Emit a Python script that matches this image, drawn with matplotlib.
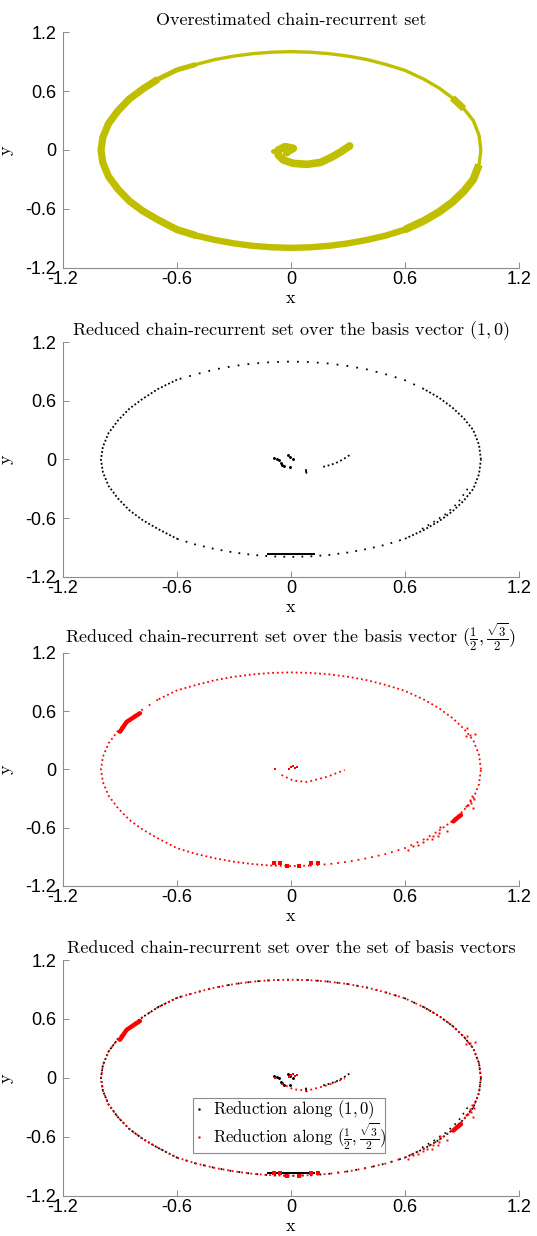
import matplotlib
matplotlib.use('Agg')
import matplotlib.pyplot as plt

plt.rcParams['mathtext.fontset'] = 'cm'
plt.rcParams['axes.unicode_minus'] = False

# ---------------- data ----------------
# closed limit cycle, counter-clockwise from (1, 0)
loop_x = [1.00, 0.99, 0.96, 0.91, 0.85, 0.78, 0.70, 0.60, 0.50, 0.40, 0.30, 0.20, 0.10,
          0.00, -0.10, -0.20, -0.30, -0.40, -0.50, -0.60, -0.70, -0.78, -0.85, -0.91,
          -0.96, -0.99, -1.00, -0.99, -0.96, -0.91, -0.85, -0.78, -0.70, -0.60, -0.50,
          -0.40, -0.30, -0.20, -0.10, 0.00, 0.10, 0.20, 0.30, 0.40, 0.50, 0.60, 0.70,
          0.78, 0.85, 0.91, 0.96, 0.99, 1.00]
loop_y = [0.00, 0.15, 0.30, 0.42, 0.53, 0.63, 0.72, 0.81, 0.87, 0.92, 0.955, 0.98, 0.995,
          1.00, 0.995, 0.98, 0.955, 0.92, 0.87, 0.815, 0.72, 0.62, 0.52, 0.40,
          0.27, 0.13, 0.00, -0.13, -0.27, -0.40, -0.52, -0.62, -0.71, -0.81, -0.87,
          -0.915, -0.95, -0.975, -0.99, -0.995, -0.99, -0.975, -0.95, -0.915, -0.87, -0.81, -0.72,
          -0.63, -0.53, -0.42, -0.30, -0.15, 0.00]

# overestimated inner spiral (panel 1)
spiral_x = [-0.022, -0.004, 0.013, -0.031, -0.067, -0.067, -0.040, 0.013, 0.085, 0.157, 0.219, 0.264, 0.309]
spiral_y = [-0.027, 0.000, 0.017, 0.034, 0.000, -0.051, -0.102, -0.136, -0.146, -0.126, -0.068, -0.017, 0.041]
spiral_iso_x = [-0.094]
spiral_iso_y = [-0.007]

# reduction along (1,0): inner pieces
black_cres_x = [-0.088, -0.075, -0.062, -0.054, -0.045, -0.037, -0.013, -0.005, 0.012, -0.005]
black_cres_y = [0.020, 0.008, -0.005, -0.039, -0.055, -0.067, 0.043, 0.022, 0.002, -0.073]
black_vert_x = [0.079, 0.081]
black_vert_y = [-0.108, -0.135]
black_chain_x = [0.170, 0.210, 0.250, 0.290, 0.320]
black_chain_y = [-0.075, -0.055, -0.025, 0.020, 0.060]
black_bottom_x = [-0.12, 0.12]
black_bottom_y = [-0.965, -0.965]
black_inner_x = [0.93, 0.88, 0.82, 0.75, 0.68]
black_inner_y = [-0.30, -0.44, -0.55, -0.64, -0.72]

# reduction along (1/2, sqrt(3)/2)
red_cl1_x = [-0.900, -0.865, -0.795]
red_cl1_y = [0.389, 0.490, 0.579]
red_cl2_x = [0.855, 0.875, 0.895]
red_cl2_y = [-0.535, -0.500, -0.470]
red_extra_x = [0.921, 0.942, 0.968, 0.928, 0.951, 0.965, 0.942, 0.933, 0.921, 0.956, 0.946,
               0.784, 0.781, 0.820, 0.746, 0.775, 0.714, 0.740, 0.693, 0.670, 0.644, 0.617]
red_extra_y = [0.345, 0.355, 0.366, 0.424, -0.273, -0.307, -0.314, -0.366, -0.376, -0.400, -0.348,
               -0.595, -0.651, -0.633, -0.685, -0.685, -0.719, -0.719, -0.744, -0.778, -0.788, -0.829]
red_bot_x = [-0.090, -0.060, -0.020, 0.045, 0.105, 0.140]
red_bot_y = [-0.966, -0.966, -0.994, -0.994, -0.966, -0.966]
red_chain_x = [-0.050, 0.013, 0.085, 0.193, 0.283]
red_chain_y = [-0.057, -0.115, -0.129, -0.074, -0.005]
red_center_x = [-0.086, 0.000, 0.020, 0.030, -0.010, 0.010]
red_center_y = [0.000, 0.030, 0.020, 0.030, 0.010, 0.040]

ticks = [-1.2, -0.6, 0, 0.6, 1.2]
tick_labels = ['-1.2', '-0.6', '0', '0.6', '1.2']

titles = ['Overestimated chain-recurrent set',
          r'Reduced chain-recurrent set over the basis vector $(1,0)$',
          r'Reduced chain-recurrent set over the basis vector $(\frac{1}{2},\frac{\sqrt{3}}{2})$',
          'Reduced chain-recurrent set over the set of basis vectors']
legend_labels = [r'Reduction along $(1,0)$',
                 r'Reduction along $(\frac{1}{2},\frac{\sqrt{3}}{2})$']

# ---------------- drawing ----------------
YEL = (0.75, 0.75, 0.0)
RED = (1.0, 0.0, 0.0)
BLK = 'black'
GRAY = '#8c8c8c'
SERIF = 'cmr10'

fig = plt.figure(figsize=(5.37, 12.36), dpi=100)
rects = [(0.1173, 0.7832, 0.849, 0.1909),
         (0.1173, 0.5332, 0.849, 0.1901),
         (0.1173, 0.2832, 0.849, 0.1885),
         (0.1173, 0.0324, 0.849, 0.1909)]
axes = [fig.add_axes(r) for r in rects]


def seg(lst, a, b):
    return lst[a:b + 1]


def dotted(ax, i0, i1, color, gap, lw=1.3, z=2):
    ax.plot(seg(loop_x, i0, i1), seg(loop_y, i0, i1), color=color, lw=lw,
            linestyle=(0, (1, gap)), dash_capstyle='butt', zorder=z)


def black_set(ax, z=2):
    dotted(ax, 19, 33, BLK, 1.2, z=z)
    dotted(ax, 45, 52, BLK, 1.2, z=z)
    dotted(ax, 0, 6, BLK, 1.2, z=z)
    dotted(ax, 6, 19, BLK, 4.5, z=z)
    dotted(ax, 33, 45, BLK, 4.0, z=z)
    ax.plot(black_inner_x, black_inner_y, color=BLK, lw=1.2, linestyle=(0, (1, 3)), zorder=z)
    ax.plot(black_bottom_x, black_bottom_y, color=BLK, lw=1.4, zorder=z)
    ax.plot(black_cres_x, black_cres_y, '.', color=BLK, ms=2.2, zorder=z)
    ax.plot(black_vert_x, black_vert_y, color=BLK, lw=1.3, zorder=z)
    ax.plot(black_chain_x, black_chain_y, color=BLK, lw=1.3, linestyle=(0, (1, 1.5)), zorder=z)


def red_set(ax, z=3):
    dotted(ax, 0, 20, RED, 1.6, z=z)
    dotted(ax, 20, 23, RED, 4.0, z=z)
    dotted(ax, 23, 40, RED, 1.6, z=z)
    dotted(ax, 40, 47, RED, 2.8, z=z)
    dotted(ax, 47, 52, RED, 1.6, z=z)
    ax.plot(red_cl1_x, red_cl1_y, color=RED, lw=3.2, solid_capstyle='round', zorder=z)
    ax.plot(red_cl2_x, red_cl2_y, color=RED, lw=3.2, solid_capstyle='round', zorder=z)
    ax.plot(red_extra_x, red_extra_y, 's', color=RED, ms=1.4, mew=0, zorder=z)
    ax.plot(red_bot_x, red_bot_y, 's', color=RED, ms=2.5, mew=0, zorder=z)
    ax.plot(red_chain_x, red_chain_y, color=RED, lw=1.3, linestyle=(0, (1, 1.8)), zorder=z)
    ax.plot(red_center_x, red_center_y, 's', color=RED, ms=1.6, mew=0, zorder=z)


# panel 1
ax = axes[0]
band = dict(color=YEL, solid_joinstyle='round', solid_capstyle='butt')
ax.plot(loop_x, loop_y, lw=2.4, **band)
ax.plot(seg(loop_x, 18, 21), seg(loop_y, 18, 21), lw=3.6, **band)
ax.plot(seg(loop_x, 20, 34), seg(loop_y, 20, 34), lw=5.2, **band)
ax.plot(seg(loop_x, 33, 46), seg(loop_y, 33, 46), lw=4.6, **band)
ax.plot(seg(loop_x, 45, 51), seg(loop_y, 45, 51), lw=5.6, **band)
ax.plot(seg(loop_x, 3, 4), seg(loop_y, 3, 4), lw=5.0, **band)
ax.plot(spiral_x, spiral_y, color=YEL, lw=5.5, solid_joinstyle='round', solid_capstyle='round')
ax.plot(spiral_iso_x, spiral_iso_y, 'o', color=YEL, ms=2.5)

# panel 2
black_set(axes[1])

# panel 3
red_set(axes[2])

# panel 4
black_set(axes[3], z=2)
red_set(axes[3], z=3)
h1, = axes[3].plot([], [], '.', color=BLK, ms=1.5)
h2, = axes[3].plot([], [], '.', color=RED, ms=1.5)
leg = axes[3].legend([h1, h2], legend_labels, loc='lower left', bbox_to_anchor=(0.286, 0.182, 0.42, 0.19),
                     mode='expand', fancybox=False, framealpha=1, edgecolor=GRAY,
                     prop={'family': SERIF, 'size': 12}, handlelength=0.6, handletextpad=0.5,
                     borderpad=0.05, labelspacing=0.0, borderaxespad=0)
leg.get_frame().set_linewidth(0.8)

for ax, t in zip(axes, titles):
    ax.set_xlim(-1.2, 1.2)
    ax.set_ylim(-1.2, 1.2)
    ax.set_xticks(ticks)
    ax.set_yticks(ticks)
    ax.set_xticklabels(tick_labels, family='Liberation Sans', fontsize=13)
    ax.set_yticklabels(tick_labels, family='Liberation Sans', fontsize=13)
    for s in ['top', 'right']:
        ax.spines[s].set_visible(False)
    for s in ['left', 'bottom']:
        ax.spines[s].set_color(GRAY)
        ax.spines[s].set_linewidth(0.8)
    ax.tick_params(direction='in', length=4, width=0.7, color=GRAY, labelcolor='black', pad=2)
    ax.tick_params(axis='y', pad=5)
    ax.set_xlabel('x', family=SERIF, fontsize=13, labelpad=2)
    ax.set_ylabel('y', family=SERIF, fontsize=13, labelpad=8)
    ax.set_title(t, family=SERIF, fontsize=13, pad=5)

fig.savefig('out.png', dpi=100)
